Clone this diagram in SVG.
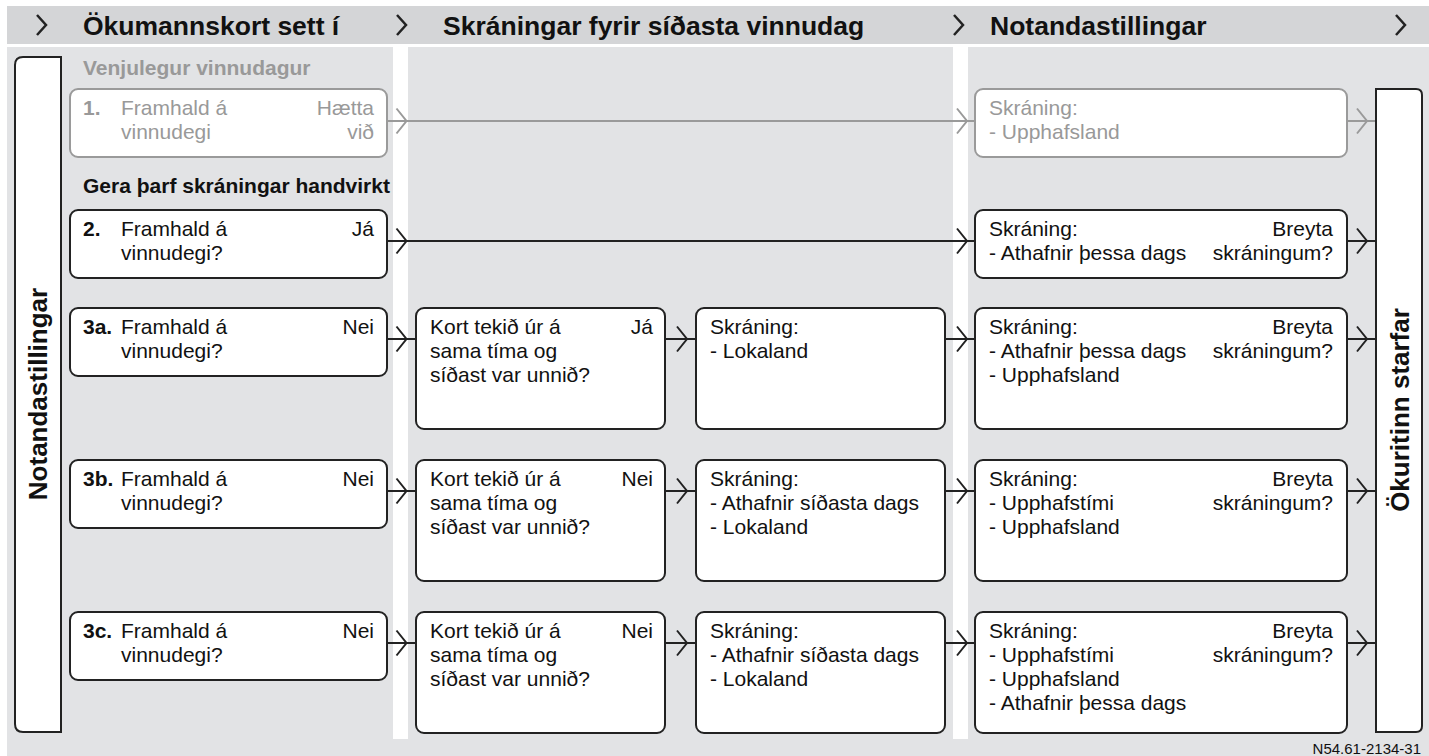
<svg xmlns="http://www.w3.org/2000/svg" xmlns:xlink="http://www.w3.org/1999/xlink" width="1429" height="756" viewBox="0 0 1429 756">
<defs>
<style>
.t{font-family:"Liberation Sans",Arial,sans-serif;font-size:21px;fill:#111}
.b{font-weight:bold}
.g{fill:#999}
.h{font-family:"Liberation Sans",Arial,sans-serif;font-size:26.5px;font-weight:bold;fill:#111}
.v{font-family:"Liberation Sans",Arial,sans-serif;font-size:26px;font-weight:bold;fill:#111}
.r{text-anchor:end}
.box{fill:#fff;stroke:#222;stroke-width:2}
.gbox{fill:#fff;stroke:#9a9a9a;stroke-width:2}
.ln{fill:none;stroke:#222;stroke-width:2}
.gl{fill:none;stroke:#9a9a9a;stroke-width:2}
.hc{fill:none;stroke:#222;stroke-width:2.5}
</style>
<path id="chev" d="M-10,-12.5 L0,0 L-10,12.5"/>
<path id="hchev" d="M0,0 L9,10 L0,20"/>
</defs>

<g id="background">
<rect x="7" y="6" width="1422" height="38" fill="#d4d5d7"/>
<rect x="7" y="47" width="1422" height="709" fill="#e2e3e5"/>
<rect x="393" y="47" width="15" height="692" fill="#fff"/>
<rect x="953" y="47" width="15" height="692" fill="#fff"/>
</g>

<g id="header">
<use xlink:href="#hchev" x="37" y="15" class="hc"/>
<use xlink:href="#hchev" x="397" y="15" class="hc"/>
<use xlink:href="#hchev" x="954" y="15" class="hc"/>
<use xlink:href="#hchev" x="1396" y="15" class="hc"/>
<text class="h" x="83" y="35">Ökumannskort sett í</text>
<text class="h" x="443" y="35">Skráningar fyrir síðasta vinnudag</text>
<text class="h" x="990" y="35">Notandastillingar</text>
</g>

<g id="section-labels">
<text class="t b g" x="83" y="75">Venjulegur vinnudagur</text>
<text class="t b" x="83" y="193">Gera þarf skráningar handvirkt</text>
</g>

<g id="connectors">
<line class="gl" x1="387" y1="121" x2="975" y2="121"/>
<use xlink:href="#chev" x="406.5" y="121" class="gl"/>
<use xlink:href="#chev" x="967" y="121" class="gl"/>
<line class="gl" x1="1347" y1="121" x2="1376" y2="121"/>
<use xlink:href="#chev" x="1367" y="121" class="gl"/>

<line class="ln" x1="387" y1="241" x2="975" y2="241"/>
<use xlink:href="#chev" x="406.5" y="241" class="ln"/>
<use xlink:href="#chev" x="967" y="241" class="ln"/>
<line class="ln" x1="1347" y1="241" x2="1376" y2="241"/>
<use xlink:href="#chev" x="1367" y="241" class="ln"/>

<line class="ln" x1="387" y1="339" x2="416" y2="339"/>
<use xlink:href="#chev" x="406.5" y="339" class="ln"/>
<line class="ln" x1="665" y1="339" x2="696" y2="339"/>
<use xlink:href="#chev" x="687" y="339" class="ln"/>
<line class="ln" x1="945" y1="339" x2="975" y2="339"/>
<use xlink:href="#chev" x="967" y="339" class="ln"/>
<line class="ln" x1="1347" y1="339" x2="1376" y2="339"/>
<use xlink:href="#chev" x="1367" y="339" class="ln"/>

<line class="ln" x1="387" y1="491" x2="416" y2="491"/>
<use xlink:href="#chev" x="406.5" y="491" class="ln"/>
<line class="ln" x1="665" y1="491" x2="696" y2="491"/>
<use xlink:href="#chev" x="687" y="491" class="ln"/>
<line class="ln" x1="945" y1="491" x2="975" y2="491"/>
<use xlink:href="#chev" x="967" y="491" class="ln"/>
<line class="ln" x1="1347" y1="491" x2="1376" y2="491"/>
<use xlink:href="#chev" x="1367" y="491" class="ln"/>

<line class="ln" x1="387" y1="643" x2="416" y2="643"/>
<use xlink:href="#chev" x="406.5" y="643" class="ln"/>
<line class="ln" x1="665" y1="643" x2="696" y2="643"/>
<use xlink:href="#chev" x="687" y="643" class="ln"/>
<line class="ln" x1="945" y1="643" x2="975" y2="643"/>
<use xlink:href="#chev" x="967" y="643" class="ln"/>
<line class="ln" x1="1347" y1="643" x2="1376" y2="643"/>
<use xlink:href="#chev" x="1367" y="643" class="ln"/>
</g>

<g id="notandastillingar-left">
<path class="box" d="M61,57 H23 Q15,57 15,65 V724 Q15,732 23,732 H61 Z"/>
<text class="v" transform="translate(47,394) rotate(-90)" text-anchor="middle">Notandastillingar</text>
</g>

<g id="okuritinn-starfar">
<path class="box" d="M1376,89 H1416 Q1422,89 1422,95 V726 Q1422,732 1416,732 H1376 Z"/>
<text class="v" transform="translate(1409,410) rotate(-90)" text-anchor="middle">Ökuritinn starfar</text>
</g>

<g id="row1-start">
<rect class="gbox" x="70" y="89" width="317" height="68" rx="8"/>
<text class="t b g" x="83" y="115">1.</text>
<text class="t g" x="121" y="115">Framhald á</text>
<text class="t g" x="121" y="139">vinnudegi</text>
<text class="t g r" x="374" y="115">Hætta</text>
<text class="t g r" x="374" y="139">við</text>
</g>
<g id="row1-record">
<rect class="gbox" x="975" y="89" width="372" height="68" rx="8"/>
<text class="t g" x="989" y="115">Skráning:</text>
<text class="t g" x="989" y="139">- Upphafsland</text>
</g>

<g id="row2-start">
<rect class="box" x="70" y="210" width="317" height="68" rx="8"/>
<text class="t b" x="83" y="236">2.</text>
<text class="t" x="121" y="236">Framhald á</text>
<text class="t" x="121" y="260">vinnudegi?</text>
<text class="t r" x="374" y="236">Já</text>
</g>
<g id="row2-record">
<rect class="box" x="975" y="210" width="372" height="68" rx="8"/>
<text class="t" x="989" y="236">Skráning:</text>
<text class="t" x="989" y="260">- Athafnir þessa dags</text>
<text class="t r" x="1333" y="236">Breyta</text>
<text class="t r" x="1333" y="260">skráningum?</text>
</g>

<g id="row3a-start">
<rect class="box" x="70" y="308" width="317" height="68" rx="8"/>
<text class="t b" x="83" y="334">3a.</text>
<text class="t" x="121" y="334">Framhald á</text>
<text class="t" x="121" y="358">vinnudegi?</text>
<text class="t r" x="374" y="334">Nei</text>
</g>
<g id="row3a-card">
<rect class="box" x="416" y="308" width="249" height="121" rx="8"/>
<text class="t" x="430" y="334">Kort tekið úr á</text>
<text class="t" x="430" y="358">sama tíma og</text>
<text class="t" x="430" y="382">síðast var unnið?</text>
<text class="t r" x="653" y="334">Já</text>
</g>
<g id="row3a-last">
<rect class="box" x="696" y="308" width="249" height="121" rx="8"/>
<text class="t" x="710" y="334">Skráning:</text>
<text class="t" x="710" y="358">- Lokaland</text>
</g>
<g id="row3a-record">
<rect class="box" x="975" y="308" width="372" height="121" rx="8"/>
<text class="t" x="989" y="334">Skráning:</text>
<text class="t" x="989" y="358">- Athafnir þessa dags</text>
<text class="t" x="989" y="382">- Upphafsland</text>
<text class="t r" x="1333" y="334">Breyta</text>
<text class="t r" x="1333" y="358">skráningum?</text>
</g>

<g id="row3b-start">
<rect class="box" x="70" y="460" width="317" height="68" rx="8"/>
<text class="t b" x="83" y="486">3b.</text>
<text class="t" x="121" y="486">Framhald á</text>
<text class="t" x="121" y="510">vinnudegi?</text>
<text class="t r" x="374" y="486">Nei</text>
</g>
<g id="row3b-card">
<rect class="box" x="416" y="460" width="249" height="121" rx="8"/>
<text class="t" x="430" y="486">Kort tekið úr á</text>
<text class="t" x="430" y="510">sama tíma og</text>
<text class="t" x="430" y="534">síðast var unnið?</text>
<text class="t r" x="653" y="486">Nei</text>
</g>
<g id="row3b-last">
<rect class="box" x="696" y="460" width="249" height="121" rx="8"/>
<text class="t" x="710" y="486">Skráning:</text>
<text class="t" x="710" y="510">- Athafnir síðasta dags</text>
<text class="t" x="710" y="534">- Lokaland</text>
</g>
<g id="row3b-record">
<rect class="box" x="975" y="460" width="372" height="121" rx="8"/>
<text class="t" x="989" y="486">Skráning:</text>
<text class="t" x="989" y="510">- Upphafstími</text>
<text class="t" x="989" y="534">- Upphafsland</text>
<text class="t r" x="1333" y="486">Breyta</text>
<text class="t r" x="1333" y="510">skráningum?</text>
</g>

<g id="row3c-start">
<rect class="box" x="70" y="612" width="317" height="68" rx="8"/>
<text class="t b" x="83" y="638">3c.</text>
<text class="t" x="121" y="638">Framhald á</text>
<text class="t" x="121" y="662">vinnudegi?</text>
<text class="t r" x="374" y="638">Nei</text>
</g>
<g id="row3c-card">
<rect class="box" x="416" y="612" width="249" height="121" rx="8"/>
<text class="t" x="430" y="638">Kort tekið úr á</text>
<text class="t" x="430" y="662">sama tíma og</text>
<text class="t" x="430" y="686">síðast var unnið?</text>
<text class="t r" x="653" y="638">Nei</text>
</g>
<g id="row3c-last">
<rect class="box" x="696" y="612" width="249" height="121" rx="8"/>
<text class="t" x="710" y="638">Skráning:</text>
<text class="t" x="710" y="662">- Athafnir síðasta dags</text>
<text class="t" x="710" y="686">- Lokaland</text>
</g>
<g id="row3c-record">
<rect class="box" x="975" y="612" width="372" height="121" rx="8"/>
<text class="t" x="989" y="638">Skráning:</text>
<text class="t" x="989" y="662">- Upphafstími</text>
<text class="t" x="989" y="686">- Upphafsland</text>
<text class="t" x="989" y="710">- Athafnir þessa dags</text>
<text class="t r" x="1333" y="638">Breyta</text>
<text class="t r" x="1333" y="662">skráningum?</text>
</g>

<g id="figure-code">
<text x="1421" y="754" text-anchor="end" style="font-family:'Liberation Sans',Arial,sans-serif;font-size:15px;fill:#111">N54.61-2134-31</text>
</g>
</svg>
